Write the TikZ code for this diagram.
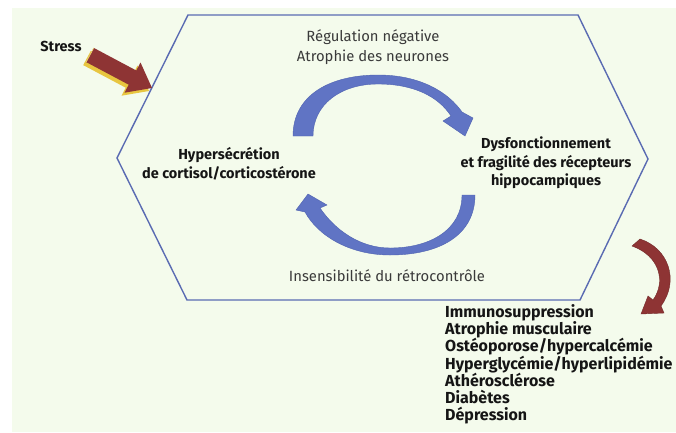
\documentclass[tikz,border=0pt]{standalone}
\usepackage{fontspec}
\setmainfont{Fira Sans}
\definecolor{bgc}{HTML}{F4FBEC}
\definecolor{hexc}{HTML}{5A6BB2}
\definecolor{bluea}{HTML}{6074C4}
\definecolor{blueb}{HTML}{4F62B0}
\definecolor{reda}{HTML}{8E3434}
\definecolor{yel}{HTML}{E8C640}
\definecolor{txt}{HTML}{151515}
\definecolor{txtg}{HTML}{3A3A3A}
\tikzset{
  boldlbl/.style={font=\fontsize{14.5}{18.5}\selectfont\bfseries, text=txt, align=center, inner sep=0pt},
  normlbl/.style={font=\fontsize{14.8}{20}\selectfont, text=txtg, align=center, inner sep=0pt},
  listlbl/.style={font=\fontsize{16}{17.3}\selectfont\bfseries, text=txt, align=left, inner sep=0pt},
  bluearrow/.style={fill=bluea, draw=blueb, line width=0.4pt},
  redarrow/.style={fill=reda, draw=reda!80!black, line width=0.4pt},
}
\begin{document}
\begin{tikzpicture}[x=1pt,y=-1pt]
\useasboundingbox (0,0) rectangle (676,432);
\fill[white] (0,0) rectangle (676,432);
\fill[bgc] (12,8) rectangle (676,432);
% hexagon
\draw[hexc, line width=1.4pt, line join=miter]
  (188,15) -- (578,15) -- (648,159) -- (580,300) -- (187,300) -- (117,158) -- cycle;
% stress arrow
\fill[yel] (83.2,65.1) -- (90.8,50.9) -- (133.3,73.5) -- (137.5,65.5) -- (149,91) -- (121.5,95.7) -- (125.7,87.7) -- cycle;
\fill[reda] (86.2,62.1) -- (93.8,47.9) -- (136.3,70.5) -- (140.5,62.5) -- (152,88) -- (124.5,92.7) -- (128.7,84.7) -- cycle;
\draw[yel!70!white, line width=0.6pt] (86.2,62.1) -- (93.8,47.9);
% top blue arc
\path[bluearrow] (293,136) .. controls (293,95) and (330,75) .. (378,75)
  .. controls (420,75) and (448,92) .. (462,112) -- (473,118) -- (465,136) -- (443,121) -- (451,116)
  .. controls (438,96) and (413,84) .. (378,84)
  .. controls (340,84) and (313,105) .. (313,136) -- cycle;
% bottom blue arc
\path[bluearrow] (475,195) .. controls (475,235) and (440,255) .. (390,255)
  .. controls (350,255) and (318,236) .. (305,212) -- (296,210) -- (308,194) -- (327,205) -- (320,208)
  .. controls (335,230) and (360,248) .. (390,248)
  .. controls (430,248) and (462,230) .. (462,195) -- cycle;
% red arc
\path[redarrow] (632,246) -- (640,239) .. controls (668,248) and (680,280) .. (661,306)
  -- (664,313) -- (641,314) -- (648,296) -- (653,300)
  .. controls (666,282) and (660,256) .. (632,246) -- cycle;
% labels
\node[boldlbl] (stress) at (61,46) {Stress};
\node[normlbl] (reg) at (373,47) {Régulation négative\\Atrophie des neurones};
\node[boldlbl] (hyper) at (229,164) {Hypersécrétion\\de cortisol/corticostérone};
\node[boldlbl] (dys) at (546,163) {Dysfonctionnement\\et fragilité des récepteurs\\hippocampiques};
\node[normlbl] (insens) at (387,276) {Insensibilité du rétrocontrôle};
\node[listlbl, anchor=north west] (list) at (445,304) {Immunosuppression\\Atrophie musculaire\\Ostéoporose/hypercalcémie\\Hyperglycémie/hyperlipidémie\\Athérosclérose\\Diabètes\\Dépression};
\end{tikzpicture}
\end{document}
